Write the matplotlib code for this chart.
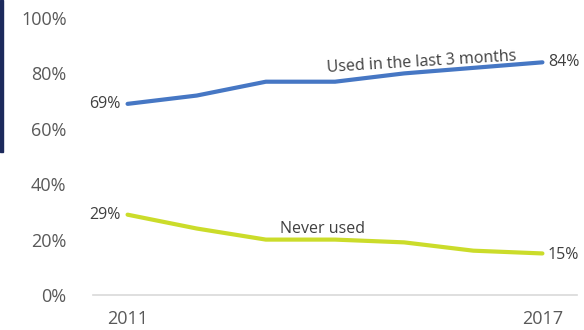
import matplotlib
matplotlib.use("Agg")
import matplotlib.pyplot as plt
from matplotlib.patches import Rectangle

# data
years = ["2011", "2012", "2013", "2014", "2015", "2016", "2017"]
shown_years = ["2011", "", "", "", "", "", "2017"]
used_recent = [69, 72, 77, 77, 80, 82, 84]
never_used = [29, 24, 20, 20, 19, 16, 15]
y_ticks = [0, 20, 40, 60, 80, 100]

blue = "#4677c4"
green = "#cbdc2a"
grey_text = "#595959"
dark_text = "#404040"

plt.rcParams["font.family"] = ["Open Sans", "DejaVu Sans"]

fig = plt.figure(figsize=(5.84, 3.30), dpi=100)
ax = fig.add_axes([93 / 584, 35 / 330, 484 / 584, 277 / 330])

x = list(range(len(years)))
ax.plot(x, used_recent, color=blue, lw=3, solid_capstyle="round", solid_joinstyle="round")
ax.plot(x, never_used, color=green, lw=3, solid_capstyle="round", solid_joinstyle="round")

ax.set_xlim(-0.5, len(years) - 0.5)
ax.set_ylim(0, 100)
ax.set_yticks(y_ticks)
ax.set_yticklabels([f"{v}%" for v in y_ticks])
ax.set_xticks(x)
ax.set_xticklabels(shown_years)
ax.tick_params(axis="y", length=0, pad=19, labelsize=13, labelcolor=grey_text)
ax.tick_params(axis="x", length=0, pad=11, labelsize=13, labelcolor=grey_text)

for side in ["top", "right", "left"]:
    ax.spines[side].set_visible(False)
ax.spines["bottom"].set_color("#d9d9d9")
ax.spines["bottom"].set_linewidth(1.2)

# end point labels
lab = dict(fontsize=11.5, color=dark_text, va="center")
ax.annotate(f"{used_recent[0]}%", (x[0], used_recent[0]), xytext=(-5, 0),
            textcoords="offset points", ha="right", **lab)
ax.annotate(f"{never_used[0]}%", (x[0], never_used[0]), xytext=(-5, 0),
            textcoords="offset points", ha="right", **lab)
ax.annotate(f"{used_recent[-1]}%", (x[-1], used_recent[-1]), xytext=(4, 0),
            textcoords="offset points", ha="left", **lab)
ax.annotate(f"{never_used[-1]}%", (x[-1], never_used[-1]), xytext=(4, -1),
            textcoords="offset points", ha="left", **lab)

# series labels along the lines
ax.text(4.25, 84, "Used in the last 3 months", fontsize=11.5, color=dark_text,
        ha="center", va="center", rotation=3.5)
ax.text(2.82, 24, "Never used", fontsize=11.5, color=dark_text,
        ha="center", va="center")

# dark side bar at left edge
fig.patches.append(Rectangle((0, 178 / 330), 3 / 584, 152 / 330,
                             transform=fig.transFigure, color="#1c2a5c", zorder=0))

fig.savefig("out.png", dpi=100)
